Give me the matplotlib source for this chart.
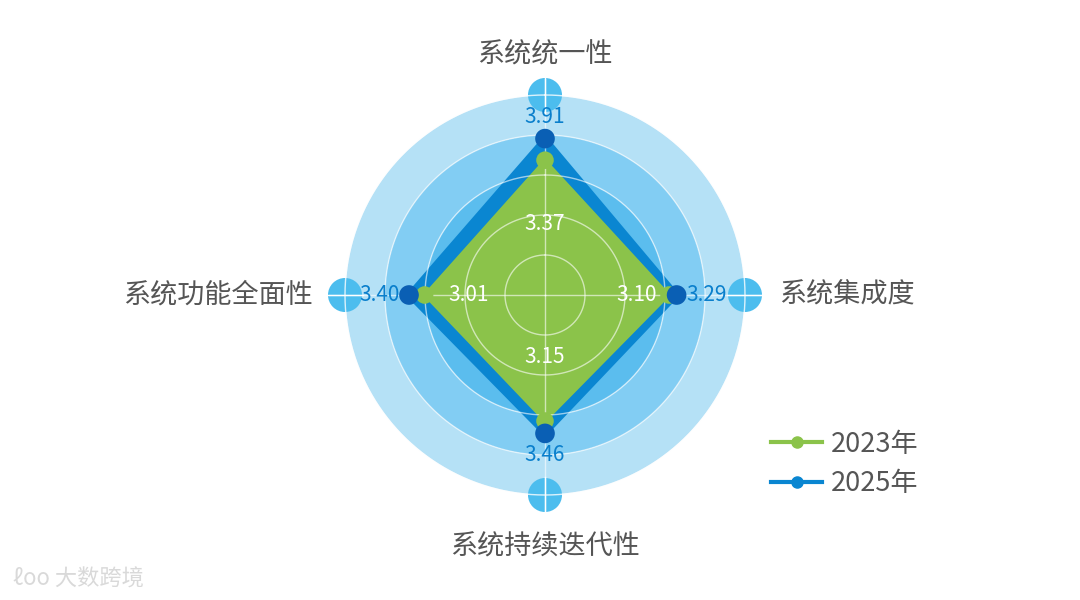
import numpy as np
import matplotlib
matplotlib.use("Agg")
import matplotlib.pyplot as plt
from matplotlib.lines import Line2D

plt.rcParams['font.family'] = ['Noto Sans CJK SC', 'DejaVu Sans']

# data
categories = ['系统统一性', '系统集成度', '系统持续迭代性', '系统功能全面性']
values_2023 = [3.37, 3.10, 3.15, 3.01]
values_2025 = [3.91, 3.29, 3.46, 3.40]
series_names = ['2023年', '2025年']
ring_levels = [1, 2, 3, 4, 5]

ring_colors = ['#3fb2ea', '#48b6ec', '#5bbdee', '#82cdf3', '#b5e1f6']
green = '#8bc34a'
blue_fill = '#0a86d1'
blue_dot = '#0a5fb4'
end_dot = '#4cbdee'
text_col = '#555555'

fig = plt.figure(figsize=(10.8, 6), dpi=100)
cx, cy = 545 / 1080, 1 - 295 / 600
w, h = 400 / 1080, 400 / 600
ax = fig.add_axes([cx - w / 2, cy - h / 2, w, h], projection='polar')
ax.set_theta_zero_location('N')
ax.set_theta_direction(-1)
ax.set_ylim(0, 5)
ax.set_axis_off()

angles = np.deg2rad([0, 90, 180, 270])

# background rings
prev = 0
for lvl, col in zip(ring_levels, ring_colors):
    ax.bar(0, lvl - prev, width=2 * np.pi, bottom=prev, color=col, edgecolor='none', zorder=0)
    prev = lvl

# polygons
closed = np.append(angles, angles[0])
v25 = np.append(values_2025, values_2025[0])
v23 = np.append(values_2023, values_2023[0])
ax.fill(closed, v25, color=blue_fill, zorder=2)
ax.plot(closed, v25, color=blue_fill, lw=4, zorder=2, solid_joinstyle='miter')
ax.fill(closed, v23, color=green, zorder=3)
ax.plot(closed, v23, color=green, lw=2, zorder=3)

# grid lines
tt = np.linspace(0, 2 * np.pi, 361)
for lvl in ring_levels:
    ax.plot(tt, np.full_like(tt, lvl), color='white', lw=1, alpha=0.6, zorder=4, clip_on=False)
for a in angles:
    ax.plot([a, a], [0, 5.4], color='white', lw=1, alpha=0.6, zorder=6, clip_on=False)

# axis end circles
ax.scatter(angles, [5] * 4, s=600, color=end_dot, zorder=5, clip_on=False, edgecolors='none')
for a in angles:
    ax.plot([a, a], [4.55, 5.45], color='white', lw=1, zorder=6, clip_on=False)
ax.plot(tt, np.full_like(tt, 5), color='white', lw=1, alpha=0.8, zorder=5.5, clip_on=False)

# markers
ax.scatter(angles, values_2023, s=160, color=green, zorder=7, edgecolors='none')
ax.scatter(angles, values_2025, s=200, color=blue_dot, zorder=8, edgecolors='none')

# value labels
lab_fs = 15
for a, v in zip(angles, values_2025):
    deg = np.rad2deg(a)
    if deg == 0 or deg == 180:
        ax.text(a, v + 0.55, f'{v:.2f}', color='#0a7fcc', fontsize=lab_fs, ha='center', va='center', zorder=9)
    elif deg == 90:
        ax.text(a, v + 0.25, f'{v:.2f}', color='#0a7fcc', fontsize=lab_fs, ha='left', va='center', zorder=9)
    else:
        ax.text(a, v + 0.22, f'{v:.2f}', color='#0a7fcc', fontsize=lab_fs, ha='right', va='center', zorder=9)
for a, v in zip(angles, values_2023):
    deg = np.rad2deg(a)
    if deg == 0 or deg == 180:
        ax.text(a, v - 1.6, f'{v:.2f}', color='white', fontsize=lab_fs, ha='center', va='center', zorder=9)
    elif deg == 90:
        ax.text(a, v - 0.3, f'{v:.2f}', color='white', fontsize=lab_fs, ha='right', va='center', zorder=9)
    else:
        ax.text(a, v - 0.6, f'{v:.2f}', color='white', fontsize=lab_fs, ha='left', va='center', zorder=9)

# category labels
cat_fs = 19.5
ax.text(angles[0], 6.0, categories[0], color=text_col, fontsize=cat_fs, ha='center', va='center')
ax.text(angles[1], 5.85, categories[1], color=text_col, fontsize=cat_fs, ha='left', va='center')
ax.text(angles[2], 6.3, categories[2], color=text_col, fontsize=cat_fs, ha='center', va='center')
ax.text(angles[3], 5.8, categories[3], color=text_col, fontsize=cat_fs, ha='right', va='center')

# legend
handles = [Line2D([], [], color=green, lw=3, marker='o', markersize=8),
           Line2D([], [], color='#0a86d1', lw=3, marker='o', markersize=8, markerfacecolor='#0a86d1')]
leg = fig.legend(handles, series_names, loc='upper left', bbox_to_anchor=(760 / 1080, 1 - 420 / 600),
                 frameon=False, fontsize=19.5, handlelength=1.9, handletextpad=0.3, labelspacing=0.45,
                 borderaxespad=0)
for t in leg.get_texts():
    t.set_color(text_col)

# watermark
fig.text(0.012, 0.035, 'ℓoo 大数跨境', color='#d9d9d9', fontsize=16, ha='left', va='center')

fig.savefig('out.png', dpi=100, facecolor='white')
